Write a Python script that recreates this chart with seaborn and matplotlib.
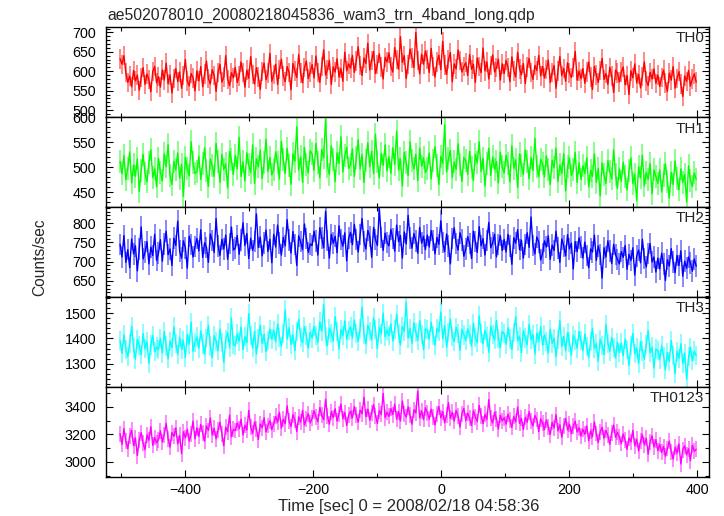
import numpy as np
import pandas as pd
import matplotlib
matplotlib.use("Agg")
import matplotlib.pyplot as plt
from matplotlib.ticker import MultipleLocator
import seaborn as sns

TITLE = "ae502078010_20080218045836_wam3_trn_4band_long.qdp"
XLABEL = "Time [sec] 0 = 2008/02/18 04:58:36"
YLABEL = "Counts/sec"
BANDS = ["TH0", "TH1", "TH2", "TH3", "TH0123"]
COLORS = ["#ff0000", "#00ff00", "#0000ff", "#00ffff", "#ff00ff"]
T_START = -502
T_STEP = 3

TH0 = [632, 618, 640, 596, 571, 588, 560, 602, 575, 590, 551, 584, 609, 566, 593, 578, 547, 599, 612, 570,
       586, 559, 603, 577, 621, 568, 590, 544, 581, 607, 573, 598, 556, 589, 630, 575, 562, 594, 583, 549,
       601, 575, 612, 560, 593, 626, 581, 567, 604, 589, 548, 597, 618, 572, 585, 640, 579, 563, 596, 583,
       610, 571, 588, 624, 597, 559, 603, 582, 638, 591, 567, 609, 585, 553, 600, 621, 578, 595, 646, 574,
       592, 618, 566, 605, 631, 588, 573, 612, 597, 552, 620, 601, 584, 643, 595, 570, 609, 626, 581, 598,
       617, 583, 639, 596, 571, 612, 655, 590, 604, 628, 566, 611, 598, 632, 585, 607, 574, 649, 601, 619,
       608, 641, 597, 626, 663, 615, 589, 634, 620, 672, 603, 628, 651, 594, 617, 645, 611, 580, 636, 624,
       647, 612, 598, 661, 630, 605, 689, 623, 640, 581, 618, 657, 634, 609, 700, 627, 593, 644, 618, 652,
       631, 597, 659, 612, 585, 624, 641, 604, 677, 616, 592, 630, 648, 573, 619, 606, 655, 627, 598, 612,
       622, 589, 643, 605, 618, 571, 634, 612, 596, 660, 601, 624, 580, 615, 642, 598, 609, 631, 577, 619,
       594, 628, 610, 573, 637, 601, 585, 649, 606, 591, 620, 568, 611, 633, 597, 579, 615, 602, 641, 588,
       612, 583, 604, 629, 571, 597, 615, 556, 601, 638, 589, 607, 574, 622, 595, 584, 610, 651, 577, 600,
       581, 607, 569, 598, 624, 585, 553, 612, 590, 571, 602, 633, 579, 594, 566, 610, 588, 545, 603, 595,
       572, 598, 611, 565, 589, 540, 601, 583, 619, 570, 592, 557, 586, 624, 575, 563, 597, 580, 606, 569,
       590, 561, 584, 603, 570, 548, 595, 577, 612, 556, 581, 599, 567, 535, 588, 574, 602, 562, 580, 593,
       572]

TH1 = [512, 487, 523, 476, 498, 531, 469, 505, 482, 517, 452, 494, 526, 488, 471, 509, 535, 480, 497, 461,
       518, 490, 473, 527, 501, 545, 484, 466, 512, 495, 529, 478, 506, 442, 520, 497, 483, 551, 509, 488,
       491, 522, 476, 508, 539, 494, 462, 517, 503, 482, 548, 511, 470, 526, 496, 507, 459, 532, 515, 486,
       524, 497, 560, 482, 511, 473, 529, 505, 490, 545, 468, 517, 501, 534, 478, 509, 556, 492, 520, 485,
       496, 531, 509, 477, 552, 515, 488, 538, 503, 466, 527, 512, 581, 495, 521, 470, 540, 506, 489, 533,
       527, 494, 548, 510, 479, 536, 519, 597, 502, 486, 543, 515, 472, 529, 508, 561, 491, 523, 540, 498,
       505, 537, 482, 519, 555, 497, 526, 470, 514, 549, 501, 532, 488, 566, 511, 479, 528, 504, 545, 493,
       521, 488, 539, 506, 572, 495, 517, 463, 530, 509, 484, 551, 513, 497, 526, 474, 538, 502, 519, 490,
       498, 529, 477, 514, 541, 503, 466, 522, 508, 585, 491, 517, 534, 480, 511, 496, 547, 505, 472, 520,
       513, 486, 532, 499, 474, 526, 509, 551, 492, 518, 463, 507, 538, 484, 521, 496, 512, 469, 530, 501,
       489, 524, 507, 471, 543, 498, 515, 460, 527, 503, 486, 535, 512, 477, 520, 494, 558, 501, 482, 516,
       508, 481, 523, 495, 466, 514, 499, 538, 472, 505, 488, 527, 453, 501, 519, 484, 496, 530, 470, 509,
       476, 503, 488, 519, 461, 494, 482, 527, 470, 498, 443, 509, 485, 468, 514, 492, 477, 535, 486, 458,
       497, 472, 510, 481, 455, 493, 519, 468, 486, 434, 501, 479, 524, 463, 490, 476, 508, 447, 495, 482,
       468, 495, 451, 484, 507, 472, 439, 490, 466, 513, 478, 455, 497, 470, 486, 431, 503, 474, 462, 489,
       476]

TH2 = [745, 712, 768, 698, 731, 684, 759, 720, 741, 676, 733, 790, 707, 725, 752, 694, 738, 716, 771, 703,
       722, 757, 701, 746, 779, 718, 733, 690, 761, 742, 805, 727, 709, 754, 736, 683, 766, 745, 712, 739,
       760, 728, 783, 711, 749, 737, 698, 772, 755, 724, 812, 741, 716, 758, 733, 769, 706, 747, 790, 730,
       735, 768, 719, 756, 801, 742, 773, 708, 761, 729, 752, 824, 737, 764, 715, 749, 782, 726, 758, 697,
       771, 738, 795, 749, 717, 763, 741, 809, 756, 722, 778, 745, 690, 767, 752, 731, 798, 760, 724, 746,
       742, 779, 753, 717, 788, 762, 736, 831, 755, 709, 771, 748, 766, 723, 793, 758, 740, 775, 702, 761,
       776, 744, 797, 758, 725, 770, 812, 752, 733, 781, 765, 711, 789, 757, 742, 838, 763, 729, 774, 750,
       741, 784, 760, 727, 795, 752, 768, 709, 777, 746, 820, 761, 735, 773, 754, 722, 789, 748, 766, 731,
       769, 738, 781, 755, 720, 763, 745, 806, 750, 726, 772, 741, 694, 760, 788, 747, 730, 775, 756, 714,
       733, 765, 747, 708, 779, 752, 724, 791, 741, 760, 717, 755, 802, 736, 749, 771, 712, 744, 768, 729,
       758, 725, 771, 740, 693, 762, 748, 783, 731, 756, 709, 745, 775, 737, 816, 742, 720, 764, 751, 704,
       721, 754, 738, 767, 706, 743, 729, 779, 735, 698, 759, 741, 715, 770, 733, 748, 681, 752, 726, 762,
       738, 709, 751, 716, 684, 733, 725, 769, 703, 741, 719, 657, 736, 712, 754, 727, 695, 745, 718, 706,
       694, 726, 711, 742, 680, 719, 703, 736, 665, 714, 730, 697, 758, 708, 686, 721, 747, 699, 712, 673,
       709, 681, 722, 694, 651, 705, 688, 734, 699, 671, 716, 690, 728, 662, 701, 683, 712, 696, 675, 707,
       688]

TH3 = [1392, 1341, 1415, 1356, 1327, 1380, 1449, 1362, 1318, 1397, 1372, 1335, 1420, 1359, 1388, 1301, 1374, 1412, 1347, 1366,
       1355, 1401, 1342, 1428, 1370, 1319, 1389, 1363, 1446, 1381, 1337, 1404, 1358, 1392, 1324, 1417, 1376, 1465, 1349, 1385,
       1406, 1361, 1430, 1378, 1337, 1399, 1452, 1370, 1324, 1411, 1389, 1351, 1436, 1384, 1305, 1397, 1423, 1364, 1482, 1375,
       1371, 1418, 1389, 1446, 1356, 1407, 1384, 1499, 1412, 1363, 1429, 1338, 1401, 1453, 1380, 1415, 1347, 1392, 1437, 1398,
       1432, 1387, 1458, 1405, 1369, 1421, 1514, 1398, 1443, 1376, 1415, 1352, 1429, 1476, 1403, 1384, 1447, 1412, 1361, 1425,
       1401, 1449, 1413, 1385, 1466, 1428, 1537, 1409, 1372, 1441, 1420, 1390, 1487, 1426, 1358, 1435, 1411, 1470, 1397, 1431,
       1446, 1402, 1473, 1421, 1389, 1438, 1524, 1415, 1378, 1452, 1429, 1395, 1482, 1436, 1360, 1444, 1418, 1501, 1407, 1433,
       1411, 1458, 1390, 1437, 1496, 1419, 1374, 1447, 1428, 1545, 1402, 1440, 1381, 1463, 1425, 1392, 1471, 1416, 1355, 1439,
       1434, 1397, 1465, 1412, 1373, 1441, 1426, 1506, 1400, 1452, 1366, 1423, 1478, 1409, 1388, 1445, 1419, 1352, 1437, 1414,
       1392, 1438, 1415, 1369, 1461, 1404, 1383, 1490, 1421, 1378, 1433, 1406, 1345, 1449, 1417, 1395, 1472, 1401, 1362, 1428,
       1419, 1377, 1443, 1398, 1356, 1425, 1486, 1390, 1409, 1343, 1431, 1402, 1375, 1457, 1395, 1416, 1338, 1421, 1389, 1447,
       1373, 1414, 1389, 1342, 1436, 1380, 1401, 1327, 1395, 1470, 1368, 1408, 1352, 1423, 1386, 1333, 1412, 1394, 1361, 1428,
       1392, 1351, 1418, 1367, 1325, 1389, 1441, 1360, 1379, 1310, 1397, 1372, 1336, 1455, 1381, 1349, 1404, 1363, 1322, 1385,
       1345, 1382, 1331, 1398, 1356, 1294, 1371, 1420, 1339, 1362, 1301, 1387, 1350, 1318, 1375, 1431, 1343, 1366, 1282, 1358,
       1352, 1316, 1371, 1330, 1275, 1345, 1309, 1392, 1333, 1261, 1348, 1321, 1379, 1300, 1342, 1238, 1327, 1365, 1312, 1350,
       1331]

TH0123 = [3205, 3128, 3242, 3150, 3097, 3188, 3231, 3119, 3174, 3046, 3162, 3213, 3135, 3089, 3197, 3158, 3256, 3121, 3178, 3140,
          3162, 3227, 3145, 3199, 3281, 3170, 3108, 3214, 3186, 3247, 3131, 3193, 3060, 3219, 3175, 3238, 3152, 3204, 3296, 3167,
          3248, 3186, 3273, 3210, 3151, 3262, 3229, 3320, 3197, 3244, 3168, 3231, 3289, 3206, 3117, 3253, 3219, 3341, 3182, 3237,
          3229, 3284, 3241, 3310, 3196, 3267, 3232, 3375, 3254, 3208, 3291, 3240, 3163, 3276, 3249, 3322, 3218, 3265, 3301, 3235,
          3277, 3331, 3289, 3362, 3246, 3312, 3279, 3408, 3295, 3258, 3344, 3306, 3221, 3328, 3290, 3375, 3268, 3315, 3352, 3284,
          3318, 3372, 3326, 3291, 3395, 3340, 3307, 3456, 3331, 3274, 3366, 3322, 3387, 3298, 3349, 3421, 3315, 3360, 3266, 3342,
          3368, 3321, 3402, 3339, 3290, 3377, 3351, 3470, 3329, 3385, 3304, 3358, 3416, 3337, 3281, 3373, 3346, 3498, 3323, 3361,
          3331, 3389, 3345, 3420, 3312, 3366, 3298, 3443, 3352, 3327, 3401, 3339, 3274, 3380, 3356, 3515, 3320, 3371, 3309, 3395,
          3357, 3312, 3384, 3328, 3269, 3349, 3403, 3321, 3366, 3285, 3341, 3432, 3318, 3362, 3297, 3376, 3333, 3254, 3350, 3391,
          3301, 3355, 3318, 3266, 3372, 3326, 3294, 3411, 3337, 3279, 3346, 3309, 3453, 3322, 3283, 3361, 3315, 3240, 3340, 3298,
          3322, 3275, 3348, 3304, 3251, 3331, 3292, 3399, 3280, 3317, 3236, 3325, 3289, 3366, 3297, 3262, 3338, 3309, 3221, 3314,
          3281, 3236, 3305, 3252, 3199, 3288, 3247, 3344, 3226, 3270, 3181, 3259, 3316, 3233, 3275, 3204, 3262, 3297, 3218, 3249,
          3189, 3238, 3201, 3262, 3155, 3226, 3184, 3291, 3207, 3142, 3219, 3253, 3172, 3230, 3193, 3128, 3211, 3268, 3179, 3215,
          3181, 3134, 3203, 3157, 3092, 3174, 3146, 3229, 3118, 3165, 3080, 3152, 3197, 3125, 3171, 3056, 3148, 3189, 3109, 3162,
          3083, 3127, 3069, 3112, 3041, 3098, 3152, 3075, 3020, 3106, 3064, 3131, 2985, 3090, 3117, 3052, 3096, 3010, 3121, 3078,
          3092]

ERRORS = [25, 23, 28, 38, 58]
YLIMS = [(482, 714), (421, 600.5), (608, 842), (1209, 1565), (2894, 3549)]
YMAJOR = [50, 50, 50, 100, 200]
YMINOR = [10, 10, 10, 20, 100]
XLIM = (-524, 418)

sns.set_style("white")
plt.rcParams["font.family"] = ["Liberation Sans", "DejaVu Sans"]
plt.rcParams["axes.unicode_minus"] = True

W, H = 724, 516
fig = plt.figure(figsize=(W / 100, H / 100), dpi=100)
edges = [27, 117, 207, 297, 386.5, 476.5]
left_px, right_px = 106, 709

series = [TH0, TH1, TH2, TH3, TH0123]
for i, (band, vals) in enumerate(zip(BANDS, series)):
    top, bot = edges[i], edges[i + 1]
    ax = fig.add_axes([left_px / W, 1 - bot / H, (right_px - left_px) / W, (bot - top) / H])
    vals = np.asarray(vals, dtype=float)
    t = T_START + T_STEP * np.arange(len(vals))
    df = pd.DataFrame({"t": t, "rate": vals})
    err = ERRORS[i]
    ax.vlines(df["t"], df["rate"] - err, df["rate"] + err, colors=COLORS[i],
              alpha=0.5, linewidth=1.3, zorder=2)
    sns.lineplot(data=df, x="t", y="rate", ax=ax, color=COLORS[i], linewidth=1.0,
                 estimator=None, legend=False, zorder=3)
    ax.set_xlim(*XLIM)
    ax.set_ylim(*YLIMS[i])
    ax.xaxis.set_major_locator(MultipleLocator(200))
    ax.xaxis.set_minor_locator(MultipleLocator(100))
    ax.yaxis.set_major_locator(MultipleLocator(YMAJOR[i]))
    ax.yaxis.set_minor_locator(MultipleLocator(YMINOR[i]))
    ax.tick_params(which="both", direction="in", top=True, right=True, bottom=True, left=True,
                   width=0.8, colors="black", labelsize=10.3)
    ax.tick_params(which="major", length=5)
    ax.tick_params(which="minor", length=2.6)
    ax.tick_params(axis="y", pad=7)
    ax.tick_params(axis="x", pad=5, labelbottom=(i == len(BANDS) - 1))
    ax.set_xlabel("")
    ax.set_ylabel("")
    for sp in ax.spines.values():
        sp.set_linewidth(1.0)
        sp.set_color("black")
    ax.text(1 - 5 / (right_px - left_px), 1 - 4.5 / (bot - top), band, transform=ax.transAxes,
            ha="right", va="top", fontsize=11, zorder=5)

fig.text(107 / W, 1 - 20 / H, TITLE, ha="left", va="baseline", fontsize=11.3)
fig.text(40 / W, 1 - 257 / H, YLABEL, rotation=90, ha="center", va="center", fontsize=11.2)
fig.text(409 / W, 1 - 507 / H, XLABEL, ha="center", va="center", fontsize=12)

fig.savefig("out.png", dpi=100)
